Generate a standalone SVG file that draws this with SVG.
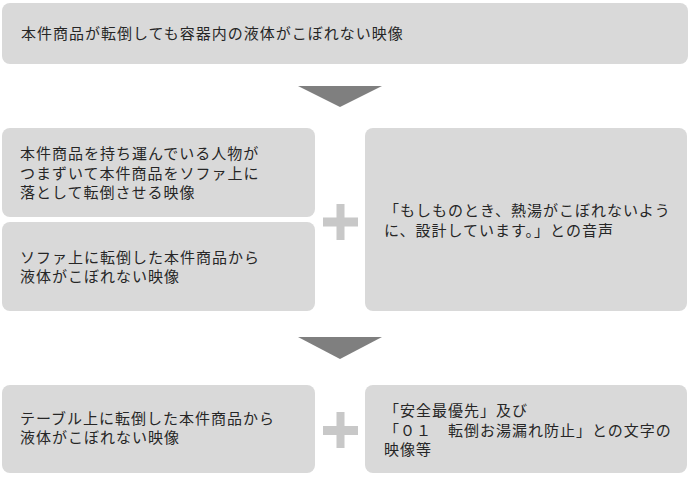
<svg xmlns="http://www.w3.org/2000/svg" width="690" height="477" viewBox="0 0 690 477">
<style>
.box{fill:#d9d9d9;}
.t{font-family:"Noto Sans CJK JP","Noto Sans CJK SC",sans-serif;font-size:15px;letter-spacing:1px;fill:#262626;}
.arrow{fill:#7f7f7f;}
.plus{fill:#c8c8c8;}
</style>
<rect width="690" height="477" fill="#ffffff"/>
<g id="node-top">
<rect class="box" x="2" y="3" width="686" height="61" rx="8"/>
<text class="t" x="21" y="38.5">本件商品が転倒しても容器内の液体がこぼれない映像</text>
</g>
<g id="node-a">
<rect class="box" x="2" y="128" width="313" height="89" rx="8"/>
<text class="t" x="20" y="159">本件商品を持ち運んでいる人物が</text>
<text class="t" x="20" y="178.5">つまずいて本件商品をソファ上に</text>
<text class="t" x="20" y="198">落として転倒させる映像</text>
</g>
<g id="node-b">
<rect class="box" x="2" y="222" width="313" height="89" rx="8"/>
<text class="t" x="20" y="262.5">ソファ上に転倒した本件商品から</text>
<text class="t" x="20" y="282">液体がこぼれない映像</text>
</g>
<g id="node-c">
<rect class="box" x="365" y="128" width="322" height="183" rx="8"/>
<text class="t" x="384" y="216">「もしものとき、熱湯がこぼれないよう</text>
<text class="t" x="384" y="235.5">に、設計しています。」との音声</text>
</g>
<g id="node-d">
<rect class="box" x="2" y="385" width="313" height="88" rx="8"/>
<text class="t" x="20" y="423.5">テーブル上に転倒した本件商品から</text>
<text class="t" x="20" y="443">液体がこぼれない映像</text>
</g>
<g id="node-e">
<rect class="box" x="365" y="385" width="322" height="88" rx="8"/>
<text class="t" x="384" y="416">「安全最優先」及び</text>
<text class="t" x="384" y="435.5">「０１　転倒お湯漏れ防止」との文字の</text>
<text class="t" x="384" y="455">映像等</text>
</g>
<g id="connectors">
<polygon class="arrow" points="298,86 382,86 340,107"/>
<polygon class="arrow" points="298,337 382,337 340,359"/>
<rect class="plus" x="323" y="217.5" width="35" height="9"/>
<rect class="plus" x="336.5" y="204" width="8" height="36"/>
<rect class="plus" x="323" y="426" width="35" height="9"/>
<rect class="plus" x="336.5" y="412" width="8" height="36"/>
</g>
</svg>
